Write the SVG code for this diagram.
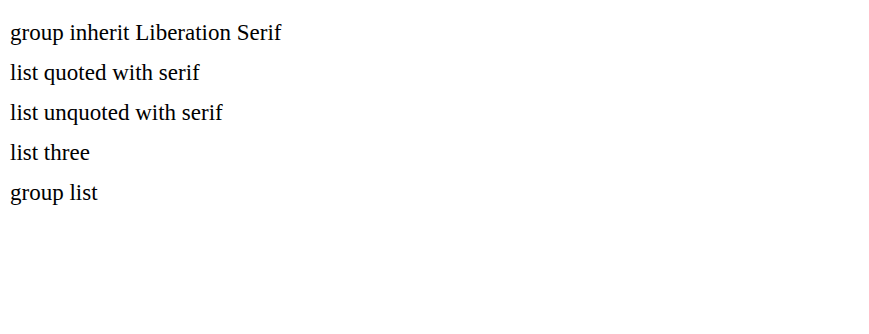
<svg xmlns="http://www.w3.org/2000/svg" width="869" height="334" viewBox="0 0 869 334">
<rect width="869" height="334" fill="#fff"/>
<g font-family="Liberation Serif" font-size="23"><text x="10" y="40">group inherit Liberation Serif</text></g>
<text x="10" y="80" font-family="'Liberation Serif', serif" font-size="23">list quoted with serif</text>
<text x="10" y="120" font-family="Liberation Serif, serif" font-size="23">list unquoted with serif</text>
<text x="10" y="160" font-family="'Liberation Serif', 'Times New Roman', serif" font-size="23">list three</text>
<g font-family="'Liberation Serif', serif" font-size="23"><text x="10" y="200">group list</text></g>
</svg>
